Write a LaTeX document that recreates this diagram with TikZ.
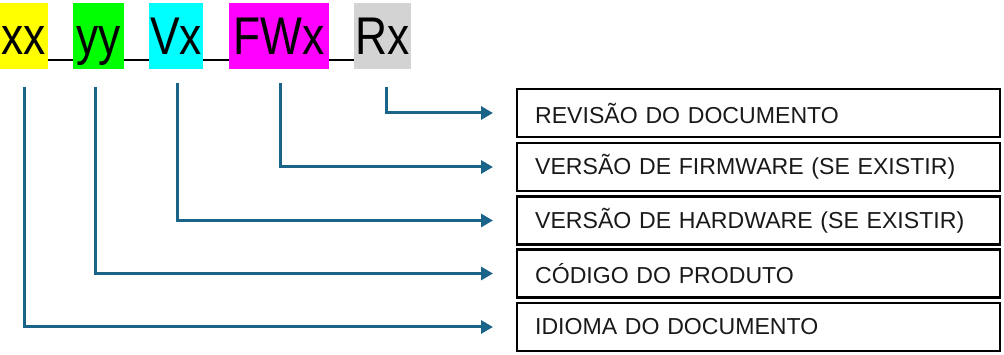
\documentclass[tikz,border=0pt]{standalone}
\usepackage{fontspec}
\setmainfont{Liberation Sans}
\usetikzlibrary{arrows.meta}
\definecolor{arrblue}{RGB}{26,100,137}
\definecolor{codegray}{RGB}{211,211,211}
\definecolor{codeyellow}{RGB}{255,255,0}
\definecolor{codegreen}{RGB}{0,255,0}
\definecolor{codecyan}{RGB}{0,255,255}
\definecolor{codemagenta}{RGB}{255,0,255}
\begin{document}
\begin{tikzpicture}[x=1pt,y=-1pt,
  codebox/.style={inner sep=0pt, anchor=north west, minimum height=66pt},
  codetext/.style={inner sep=0pt, anchor=base, font=\fontsize{51}{51}\selectfont},
  sep/.style={draw=black, line width=1.6pt},
  labelbox/.style={draw=black, line width=2.2pt, anchor=west, minimum height=48pt,
    text width=447pt, inner xsep=18pt, inner ysep=0pt, align=left,
    font=\fontsize{23.1}{23.1}\selectfont, text=black!90},
  arr/.style={draw=arrblue, line width=3pt, -{Triangle[length=12pt,width=13pt]}, shorten >=23pt}
]
\useasboundingbox (0,0) rectangle (1004,355);
% code boxes
\node[codebox, fill=codeyellow, minimum width=48pt] (xx) at (0,3) {};
\node[codebox, fill=codegreen, minimum width=51pt] (yy) at (73,3) {};
\node[codebox, fill=codecyan, minimum width=54pt] (vx) at (149,3) {};
\node[codebox, fill=codemagenta, minimum width=100pt] (fw) at (229,3) {};
\node[codebox, fill=codegray, minimum width=57pt] (rx) at (354,3) {};
\node[codetext] (txx) at (24,55) {\scalebox{0.87}[1.04]{xx}};
\node[codetext] (tyy) at (98.5,55) {\scalebox{0.87}[1.04]{yy}};
\node[codetext] (tvx) at (176,55) {\scalebox{0.87}[1.04]{Vx}};
\node[codetext] (tfw) at (279,55) {\scalebox{0.87}[1.04]{FWx}};
\node[codetext] (trx) at (383,55) {\scalebox{0.87}[1.04]{Rx}};
% underscores
\coordinate (u) at (0,60);
\draw[sep] (xx.east |- u) -- (yy.west |- u);
\draw[sep] (yy.east |- u) -- (vx.west |- u);
\draw[sep] (vx.east |- u) -- (fw.west |- u);
\draw[sep] (fw.east |- u) -- (rx.west |- u);
% label boxes
\node[labelbox] (l1) at (516,113) {REVISÃO DO DOCUMENTO};
\node[labelbox] (l2) at (516,167) {VERSÃO DE FIRMWARE (SE EXISTIR)};
\node[labelbox] (l3) at (516,220.5) {VERSÃO DE HARDWARE (SE EXISTIR)};
\node[labelbox] (l4) at (516,273.5) {CÓDIGO DO PRODUTO};
\node[labelbox] (l5) at (516,327) {IDIOMA DO DOCUMENTO};
% connector start points
\coordinate (s1) at (386,87);
\coordinate (s2) at (280,83);
\coordinate (s3) at (177,83);
\coordinate (s4) at (95,87);
\coordinate (s5) at (24,87);
\draw[arr] (s1) |- (l1.west);
\draw[arr] (s2) |- (l2.west);
\draw[arr] (s3) |- (l3.west);
\draw[arr] (s4) |- (l4.west);
\draw[arr] (s5) |- (l5.west);
\end{tikzpicture}
\end{document}
